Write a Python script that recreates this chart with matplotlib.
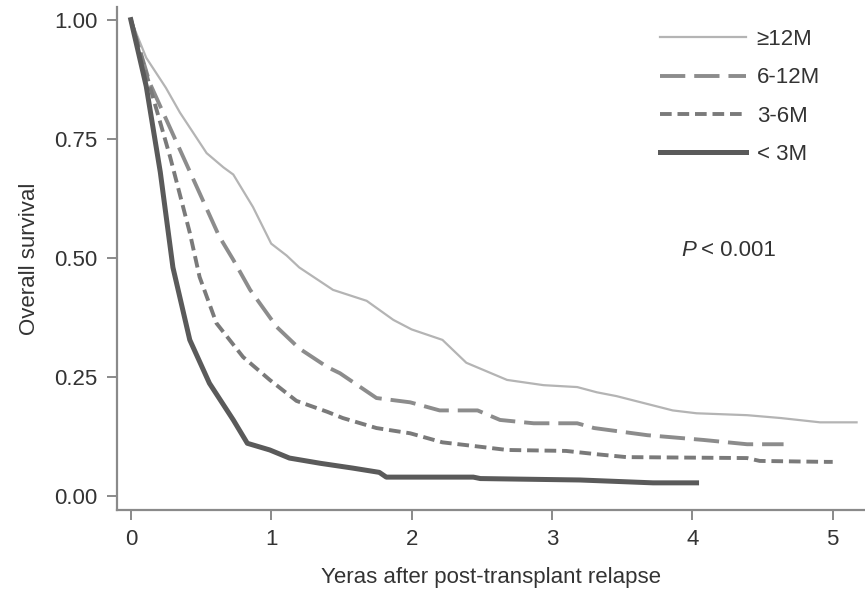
import numpy as np
import matplotlib
matplotlib.use("Agg")
from matplotlib import pyplot as plt

plt.rcParams['font.family'] = ['Liberation Sans', 'DejaVu Sans']

# survival curves (years, survival)
t_12 = [0, 0.11, 0.25, 0.35, 0.54, 0.66, 0.73, 0.87, 1.0, 1.11, 1.2, 1.44, 1.68, 1.87, 2.0,
        2.22, 2.39, 2.68, 2.94, 3.18, 3.32, 3.46, 3.86, 4.03, 4.39, 4.63, 4.91, 5.17]
s_12 = [1.0, 0.92, 0.857, 0.805, 0.72, 0.69, 0.675, 0.607, 0.53, 0.505, 0.48, 0.433, 0.41, 0.37, 0.35,
        0.328, 0.28, 0.244, 0.233, 0.229, 0.218, 0.21, 0.18, 0.174, 0.17, 0.164, 0.155, 0.155]

t_6_12 = [0, 0.135, 0.33, 0.49, 0.63, 0.73, 0.85, 1.04, 1.2, 1.4, 1.49, 1.75, 1.99, 2.2, 2.47,
          2.63, 2.87, 3.18, 3.3, 3.68, 4.08, 4.39, 4.65]
s_6_12 = [1.0, 0.867, 0.74, 0.636, 0.545, 0.496, 0.433, 0.355, 0.31, 0.271, 0.258, 0.206, 0.197, 0.18, 0.18,
          0.16, 0.153, 0.153, 0.143, 0.128, 0.118, 0.109, 0.109]

t_3_6 = [0, 0.157, 0.28, 0.42, 0.49, 0.61, 0.8, 0.99, 1.18, 1.4, 1.51, 1.75, 1.99, 2.22, 2.51,
         2.68, 3.1, 3.32, 3.53, 4.39, 4.48, 4.96, 5.0]
s_3_6 = [1.0, 0.838, 0.712, 0.553, 0.46, 0.363, 0.292, 0.244, 0.2, 0.177, 0.164, 0.143, 0.132, 0.113, 0.103,
         0.097, 0.095, 0.088, 0.082, 0.08, 0.074, 0.072, 0.072]

t_3 = [0, 0.11, 0.21, 0.3, 0.42, 0.56, 0.73, 0.83, 0.99, 1.13, 1.35, 1.58, 1.77, 1.82, 2.44,
       2.49, 3.2, 3.72, 4.03]
s_3 = [1.0, 0.86, 0.68, 0.48, 0.328, 0.237, 0.16, 0.111, 0.097, 0.08, 0.069, 0.059, 0.05, 0.04, 0.04,
       0.037, 0.034, 0.028, 0.028]

labels = ['\u226512M', '6-12M', '3-6M', '< 3M']

fs = 16

fig = plt.figure(figsize=(8.65, 5.92), dpi=100)
ax = fig.add_axes([0.135, 0.1385, 0.865, 0.85])

ax.plot(t_12, s_12, color='#b4b4b4', lw=1.6, label=labels[0])
ax.plot(t_6_12, s_6_12, color='#8c8c8c', lw=2.8, dashes=(6.5, 2.3), label=labels[1])
ax.plot(t_3_6, s_3_6, color='#7a7a7a', lw=2.8, dashes=(3.0, 1.5), label=labels[2])
ax.plot(t_3, s_3, color='#5a5a5a', lw=3.6, label=labels[3])

ax.set_xlim(-0.1, 5.23)
ax.set_ylim(-0.029, 1.027)
ax.set_xticks([0, 1, 2, 3, 4, 5])
ax.set_yticks([0, 0.25, 0.5, 0.75, 1.0])
ax.set_yticklabels(['0.00', '0.25', '0.50', '0.75', '1.00'])

for side in ['top', 'right']:
    ax.spines[side].set_visible(False)
for side in ['left', 'bottom']:
    ax.spines[side].set_color('#8a8a8a')
    ax.spines[side].set_linewidth(1.6)
ax.tick_params(direction='out', length=7, width=1.4, color='#8a8a8a',
               labelsize=fs, labelcolor='#333333', pad=7)

ax.set_xlabel('Yeras after post-transplant relapse', fontsize=fs, color='#333333', labelpad=12)
ax.set_ylabel('Overall survival', fontsize=fs, color='#333333', labelpad=10)

ax.text(3.92, 0.515, 'P', fontsize=fs, color='#333333', va='center', ha='left', style='italic')
ax.text(4.06, 0.515, '< 0.001', fontsize=fs, color='#333333', va='center', ha='left')

leg = ax.legend(loc='upper left', bbox_to_anchor=(660 / 865, 1 - 29 / 592),
                bbox_transform=fig.transFigure, frameon=False, fontsize=fs,
                handlelength=3.85, handletextpad=0.5, labelspacing=0.78, borderpad=0,
                borderaxespad=0)
for txt in leg.get_texts():
    txt.set_color('#333333')

fig.savefig('out.png', dpi=100)
